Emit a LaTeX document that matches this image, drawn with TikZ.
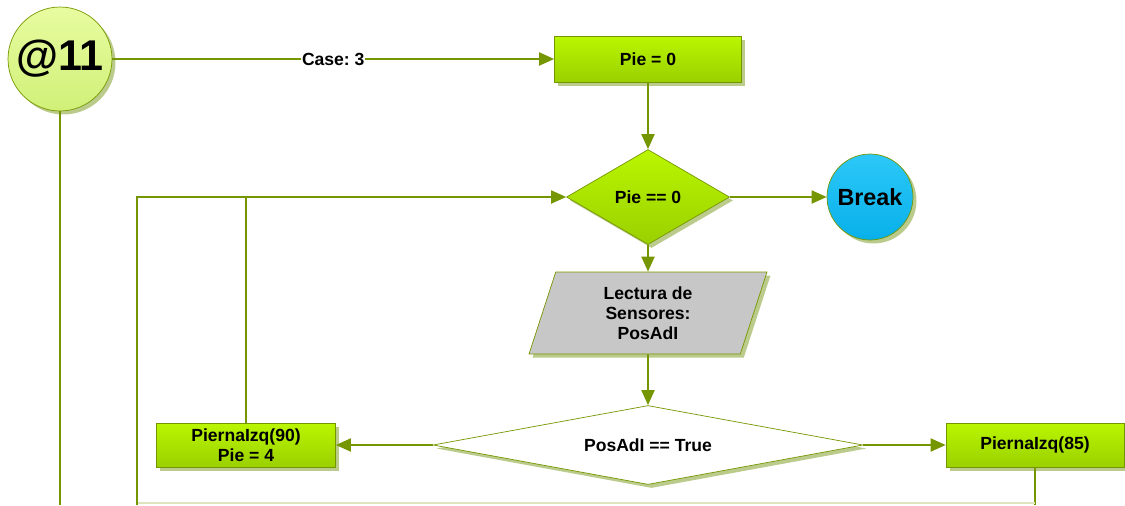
\documentclass[tikz,border=0pt]{standalone}
\usepackage{fontspec}
\setmainfont{Liberation Sans}
\frenchspacing
\usetikzlibrary{shapes.geometric,arrows.meta,shadows}

\definecolor{lineclr}{RGB}{118,150,0}
\definecolor{boxtop}{RGB}{186,246,0}
\definecolor{boxbot}{RGB}{154,208,0}
\definecolor{conntop}{RGB}{232,252,160}
\definecolor{connbot}{RGB}{208,240,120}
\definecolor{breaktop}{RGB}{44,200,248}
\definecolor{breakbot}{RGB}{8,176,234}
\definecolor{shadowclr}{RGB}{170,190,110}

\tikzset{
  link/.style={draw=lineclr, line width=1.1pt},
  flow/.style={link, -{Triangle[length=0.3cm,width=0.26cm]}},
  dshadow/.style={drop shadow={shadow xshift=0.07cm, shadow yshift=-0.07cm, fill=shadowclr, opacity=0.8}},
  procbox/.style={rectangle, draw=lineclr, top color=boxtop, bottom color=boxbot,
    font=\bfseries\fontsize{10}{11.5}\selectfont, align=center, inner sep=0pt, dshadow},
  choice/.style={diamond, draw=lineclr, inner sep=0pt, aspect=2,
    font=\bfseries\fontsize{10}{11.5}\selectfont, dshadow},
  readbox/.style={trapezium, trapezium left angle=63.4, trapezium right angle=116.6,
    trapezium stretches body, draw=lineclr, fill=black!22, inner sep=0pt,
    font=\bfseries\fontsize{10}{11.5}\selectfont, align=center, dshadow},
}

\begin{document}
\begin{tikzpicture}[x=0.02cm,y=-0.02cm]
\useasboundingbox (0,0) rectangle (1125,505);

% connector and terminal
\node[circle, draw=lineclr, top color=conntop, bottom color=connbot, minimum size=2.08cm,
  inner sep=0pt, font=\bfseries\fontsize{24.5}{26}\selectfont, dshadow] (at11) at (60,59) {@11};
\node[circle, draw=lineclr, top color=breaktop, bottom color=breakbot, minimum size=1.72cm,
  inner sep=0pt, font=\bfseries\fontsize{13.3}{15}\selectfont, dshadow] (brk) at (870,197) {Break};

% main column
\node[procbox, minimum width=3.74cm, minimum height=0.92cm] (pie0) at (648,59) {Pie = 0};
\node[choice, minimum width=3.26cm, minimum height=1.9cm, top color=boxtop, bottom color=boxbot] (ch1) at (648,197) {Pie == 0};
\node[readbox, minimum width=4.76cm, minimum height=1.64cm] (read) at (648,313) {Lectura de\\Sensores:\\PosAdI};
\node[choice, minimum width=8.6cm, minimum height=1.58cm, fill=white] (ch2) at (648,445) {PosAdI == True};

% side boxes
\node[procbox, minimum width=3.58cm, minimum height=0.88cm] (p90) at (246,445) {PiernaIzq(90)\\Pie = 4};
\node[procbox, minimum width=3.56cm, minimum height=0.88cm] (p85) at (1035,445) {PiernaIzq(85)};

\coordinate (downL) at (60,505);
\coordinate (loopR) at (1035,503);
\coordinate (loopL) at (137,503);

\draw[flow] (at11.east) -- node[fill=white, inner sep=0.5pt, font=\bfseries\fontsize{10}{12}\selectfont] {Case: 3} (pie0.west);
\draw[link] (at11.south) -- (downL);
\draw[flow] (pie0.south) -- (ch1.north);
\draw[flow] (ch1.east) -- (brk.west);
\draw[flow] (ch1.south) -- (read.north);
\draw[flow] (read.south) -- (ch2.north);
\draw[flow] (ch2.west) -- (p90.east);
\draw[flow] (ch2.east) -- (p85.west);
\draw[link] (p90.north) -- (p90.north |- ch1.west);

% loop back
\draw[link] (p85.south) -- (p85.south |- downL);
\draw[link, draw=lineclr!25] (loopR) -- (loopL);
\draw[flow] (loopL |- downL) |- (ch1.west);
\end{tikzpicture}
\end{document}
